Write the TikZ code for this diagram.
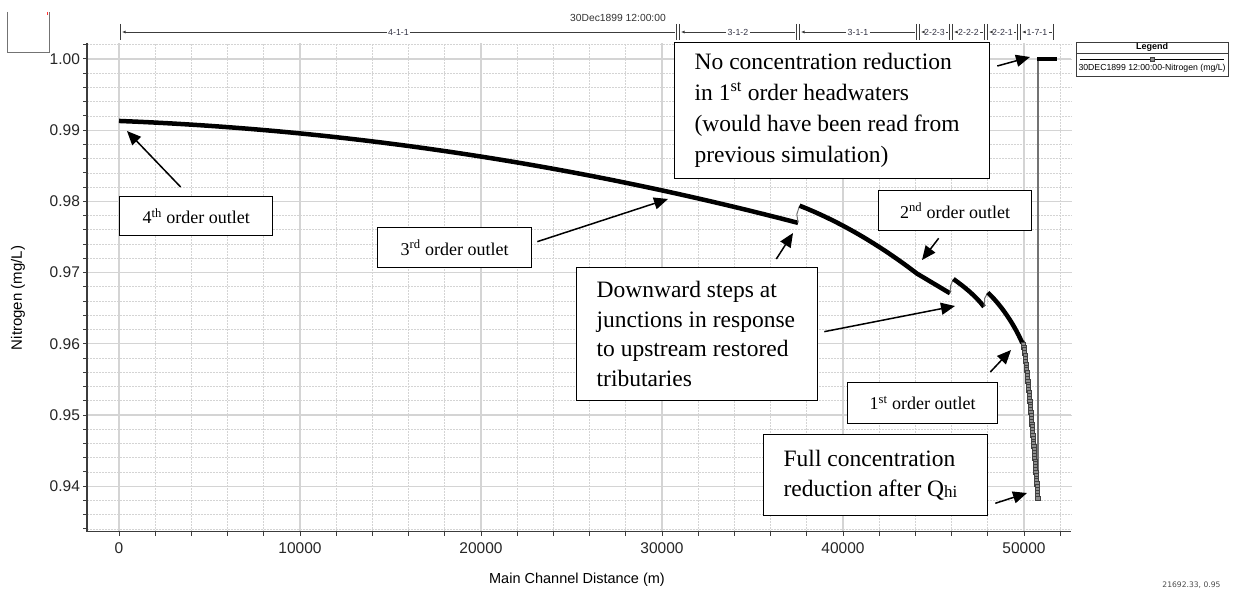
\documentclass[tikz,border=0pt]{standalone}
\usepackage{fontspec}
\setmainfont{Liberation Serif}
\setsansfont{Liberation Sans}
\newfontfamily\readoutfont{DejaVu Sans}
\usepackage{tikz}
\usetikzlibrary{arrows.meta}
\definecolor{gridline}{HTML}{D4D4D4}
\definecolor{axisgray}{HTML}{3C3C3C}
\definecolor{reachink}{HTML}{333344}
\definecolor{markfill}{HTML}{8C8C8C}
\tikzset{callout/.style={-{Triangle[length=14pt,width=12pt]},line width=1.5pt},
  tagbox/.style={draw,line width=1.3pt,fill=white,inner sep=0pt,anchor=north west,font=\fontsize{18}{20}\selectfont},
  notebox/.style={draw,line width=1.3pt,fill=white,inner xsep=20pt,inner ysep=0pt,align=flush left,anchor=north west},
  majorgrid/.style={draw=gridline,line width=1.2pt},
  minorgrid/.style={draw=gridline,line width=0.8pt,dash pattern=on 2pt off 1pt},
  profile/.style={line width=4.5pt,line join=round},
  jumpline/.style={draw=black!55,line width=1pt},
  qmark/.style={draw=black!75,fill=markfill,line width=0.6pt},
  ticklbl/.style={font=\sffamily\fontsize{15.5}{16}\selectfont,text=black!85,inner sep=0pt},
  reachlbl/.style={font=\sffamily\fontsize{8.8}{9}\selectfont,text=reachink,fill=white,inner xsep=1.5pt,inner ysep=0pt}}

\begin{document}
\begin{tikzpicture}[x=1pt,y=-1pt]
\useasboundingbox (0,0) rectangle (1234,591);
\fill[white] (0,0) rectangle (1234,591);

\begin{scope}[shift={(119,59)},x=18.1pt,y=7.12pt]
\foreach \v in {-66,-64,...,2} \draw[minorgrid] (-1.77,\v) -- (52.6,\v);
\foreach \k in {2,4,...,52} \draw[minorgrid] (\k,-66.4) -- (\k,2.25);
\foreach \v in {-60,-50,...,0} \draw[majorgrid] (-1.77,\v) -- (52.6,\v);
\foreach \k in {0,10,...,50} \draw[majorgrid] (\k,-66.4) -- (\k,2.25);
\draw[axisgray,line width=1.2pt] (-1.77,2.25) -- (-1.77,-66.4) -- (52.6,-66.4);
\foreach \v in {-66,-64,...,2} \draw[axisgray,line width=1pt] (-1.77,\v) -- ++(-4pt,0);
\foreach \k in {0,2,...,52} \draw[axisgray,line width=1pt] (\k,-66.4) -- ++(0,-4pt);
\foreach \v/\t [count=\i] in {0/1.00,-10/0.99,-20/0.98,-30/0.97,-40/0.96,-50/0.95,-60/0.94}
  \node[ticklbl,anchor=east] (ytick\i) at (-2.15,\v) {\t};
\foreach \k/\t [count=\i] in {0/0,10/10000,20/20000,30/30000,40/40000,50/50000}
  \node[ticklbl] (xtick\i) at (\k,-68.7) {\t};

\draw[profile] plot[domain=0:37.514,samples=40,smooth] (\x,{-8.7-0.1*\x-0.0075*\x*\x});
\draw[jumpline] (37.514,-23) -- (37.45,-21.8) -- (37.6,-20.6);
\draw[profile] plot[domain=0:6.49,samples=20,smooth] ({37.6+\x},{-20.6-\x-0.0725*\x*\x}) -- (45.91,-32.9);
\draw[jumpline] (45.91,-32.9) -- (45.95,-31.8) -- (46.1,-30.9);
\draw[profile] (46.1,-30.9) .. controls (46.7,-32.0) and (47.3,-33.2) .. (47.79,-34.8);
\draw[jumpline] (47.79,-34.8) -- (47.83,-33.6) -- (48.0,-32.8);
\draw[profile] (48.0,-32.8) .. controls (48.7,-34.5) and (49.4,-37.0) .. (49.89,-39.8) -- (50.0,-39.9);
\draw[draw=black!55,line width=1.3pt] (50.78,-61.9) -- (50.78,0);
\foreach \d in {0.05,0.45,...,21.9} {
  \pgfmathsetmacro\qx{49.95+0.82*pow(\d/21.9,0.8)}
  \draw[qmark] (\qx,-40-\d) ++(-2.1pt,-2.1pt) rectangle ++(4.2pt,4.2pt);
}
\draw[profile] (50.72,0) -- (51.82,0);
\end{scope}

\draw[black!55,line width=1pt] (7,12) -- (7,53) -- (49,53) -- (49,12);
\draw[red!80,line width=0.8pt] (47,12) -- (47,15);
\node[font=\sffamily\fontsize{10.3}{11}\selectfont,text=black!80] (runtime) at (618,18) {30Dec1899 12:00:00};
\foreach \a/\b/\nm [count=\i] in {119/678/4-1-1,678/798/3-1-2,798/918/3-1-1,918/951/2-2-3,951/986/2-2-2,986/1019/2-2-1,1019/1055/1-7-1} {
  \draw[axisgray,line width=0.9pt] (\a+1.5,24) -- (\a+1.5,40) (\b-1.5,24) -- (\b-1.5,40);
  \node[reachlbl] (reach\i) at ({(\a+\b)/2},32) {\nm};
  \coordinate (reachL\i) at (\a+3,32);
  \coordinate (reachR\i) at (\b-3,32);
  \draw[axisgray,line width=0.8pt,-{Latex[length=3.5pt,width=3pt]}] (reach\i.west) -- (reachL\i);
  \draw[axisgray,line width=0.8pt] (reach\i.east) -- (reachR\i);
}

\draw[axisgray,line width=0.8pt] (1076,42) rectangle (1228,76);
\draw[axisgray,line width=0.8pt] (1076,53) -- (1228,53);
\node[font=\sffamily\bfseries\fontsize{9}{9}\selectfont] (legendtitle) at (1152,47.5) {Legend};
\draw[line width=0.8pt] (1080,59) -- (1224,59);
\draw[qmark] (1150.5,57) rectangle (1154.5,61);
\node[font=\sffamily\fontsize{8.7}{9}\selectfont] (legendentry) at (1152,68.5) {30DEC1899 12:00:00-Nitrogen (mg/L)};

\node[rotate=90,font=\sffamily\fontsize{15}{15}\selectfont] (ytitle) at (18,298) {Nitrogen (mg/L)};
\node[font=\sffamily\fontsize{14.5}{15}\selectfont] (xtitle) at (577,580) {Main Channel Distance (m)};
\node[font=\readoutfont\fontsize{7.6}{8}\selectfont,text=black!70,anchor=east] (readout) at (1224,585) {21692.33, 0.95};

\node[tagbox,minimum width=153pt,minimum height=39pt] (o4) at (119,196) {4\textsuperscript{th} order outlet};
\node[tagbox,minimum width=154pt,minimum height=40pt] (o3) at (377,227) {3\textsuperscript{rd} order outlet};
\node[tagbox,minimum width=153pt,minimum height=40pt] (o2) at (878,190) {2\textsuperscript{nd} order outlet};
\node[tagbox,minimum width=150pt,minimum height=41pt] (o1) at (847,382) {1\textsuperscript{st} order outlet};
\node[notebox,text width=275pt,minimum height=136pt,font=\fontsize{23.5}{31}\selectfont] (headnote) at (674,42) {\mbox{No concentration reduction}\\\mbox{in 1\textsuperscript{st} order headwaters}\\\mbox{(would have been read from}\\\mbox{previous simulation)}};
\node[notebox,text width=201pt,minimum height=133pt,font=\fontsize{23.5}{29.5}\selectfont] (stepnote) at (576,267) {\mbox{Downward steps at}\\\mbox{junctions in response}\\\mbox{to upstream restored}\\\mbox{tributaries}};
\node[notebox,text width=184pt,minimum height=81pt,font=\fontsize{23.5}{29.5}\selectfont] (qhinote) at (763,434) {\mbox{Full concentration}\\\mbox{reduction after Q\raisebox{-1pt}{\fontsize{17}{17}\selectfont hi}}};

\coordinate (tip4) at (127,131);
\coordinate (tip3) at (668,199);
\coordinate (tiphead) at (1030,57);
\coordinate (tip2) at (922,260);
\coordinate (tipj1) at (793,233);
\coordinate (tipj2) at (955,306);
\coordinate (tip1) at (1011,350);
\coordinate (tipq) at (1027,493);
\draw[callout] ([shift={(-15.5pt,9pt)}]o4.north) -- (tip4);
\draw[callout] ([shift={(5pt,6pt)}]o3.east) -- (tip3);
\draw[callout] ([shift={(7pt,-24pt)}]headnote.north east) -- (tiphead);
\draw[callout] ([shift={(-16.5pt,-7pt)}]o2.south) -- (tip2);
\draw[callout] ([shift={(-42pt,8pt)}]stepnote.north east) -- (tipj1);
\draw[callout] ([shift={(6pt,2.5pt)}]stepnote.east) -- (tipj2);
\draw[callout] ([shift={(-8pt,10pt)}]o1.north east) -- (tip1);
\draw[callout] ([shift={(7pt,13pt)}]qhinote.south east) -- (tipq);
\end{tikzpicture}
\end{document}
